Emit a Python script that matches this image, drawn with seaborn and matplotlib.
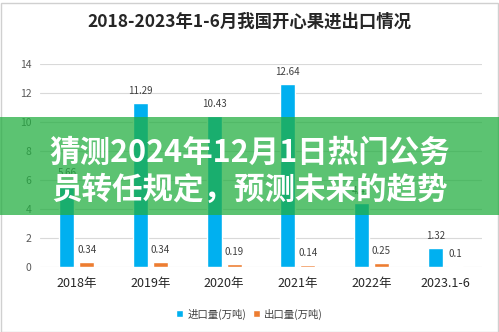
import matplotlib
matplotlib.use("Agg")
import matplotlib.pyplot as plt
from matplotlib.patches import Rectangle
import seaborn as sns
import pandas as pd

categories = ["2018年", "2019年", "2020年", "2021年", "2022年", "2023.1-6"]
series_names = ["进口量(万吨)", "出口量(万吨)"]
imports = [5.66, 11.29, 10.43, 12.64, 4.41, 1.32]
exports = [0.34, 0.34, 0.19, 0.14, 0.25, 0.1]
y_ticks = [0, 2, 4, 6, 8, 10, 12, 14]
title = "2018-2023年1-6月我国开心果进出口情况"
banner_lines = ["猜测2024年12月1日热门公务", "员转任规定，预测未来的趋势"]

sns.set_theme(style="white")
plt.rcParams["font.family"] = ["Noto Sans CJK SC", "DejaVu Sans"]

df = pd.DataFrame({
    "cat": categories * 2,
    "series": [series_names[0]] * len(categories) + [series_names[1]] * len(categories),
    "val": imports + exports,
})

W, H = 499, 332
fig = plt.figure(figsize=(W / 100, H / 100), dpi=100)
fig.patch.set_facecolor("white")

ax = fig.add_axes([40 / W, (H - 267) / H, (482 - 40) / W, (267 - 64) / H])
sns.barplot(data=df, x="cat", y="val", hue="series",
            palette=["#00B0F0", "#ED7D31"], width=0.54, gap=0.25,
            saturation=1, ax=ax, legend=True)

ax.set_ylim(0, 14)
ax.set_yticks(y_ticks)
ax.set_xlim(-0.5, len(categories) - 0.5)
ax.set_xlabel("")
ax.set_ylabel("")
for s in ax.spines.values():
    s.set_visible(False)
ax.yaxis.grid(True, color="#D9D9D9", lw=0.8)
ax.set_axisbelow(True)
ax.tick_params(axis="y", labelsize=7.5, labelcolor="#595959", length=0, pad=6)
ax.tick_params(axis="x", labelsize=9, labelcolor="#262626", length=0, pad=7)

for cont, vals in zip(ax.containers, [imports, exports]):
    ax.bar_label(cont, labels=[f"{v:g}" for v in vals], padding=5,
                 fontsize=7, color="#404040")

handles, labels = ax.get_legend_handles_labels()
ax.get_legend().remove()
fig.legend(handles, labels, loc="center", bbox_to_anchor=(0.5, (H - 314) / H),
           ncol=2, frameon=False, fontsize=7.5, handlelength=0.7, handleheight=0.7,
           handletextpad=0.4, columnspacing=0.6, labelcolor="#404040")

fig.text(0.5, (H - 22) / H, title, ha="center", va="center",
         fontsize=12.5, fontweight="bold", color="#262626")

# outer frame
fig.add_artist(Rectangle((0.5 / W, 0.5 / H), (W - 1.5) / W, (H - 3) / H,
                         transform=fig.transFigure, fill=False,
                         edgecolor="#D0D0D0", lw=1, zorder=4))

# overlay banner
fig.add_artist(Rectangle((0, (H - 215) / H), 1, 98 / H, transform=fig.transFigure,
                         facecolor=(35 / 255, 174 / 255, 65 / 255), alpha=0.74,
                         edgecolor="none", zorder=5))
fig.text(0.5, (H - 153) / H, banner_lines[0], ha="center", va="center",
         fontsize=22, fontweight="bold", color="white", zorder=6)
fig.text(0.5, (H - 190) / H, banner_lines[1], ha="center", va="center",
         fontsize=22, fontweight="bold", color="white", zorder=6)

fig.savefig("out.png", dpi=100)
